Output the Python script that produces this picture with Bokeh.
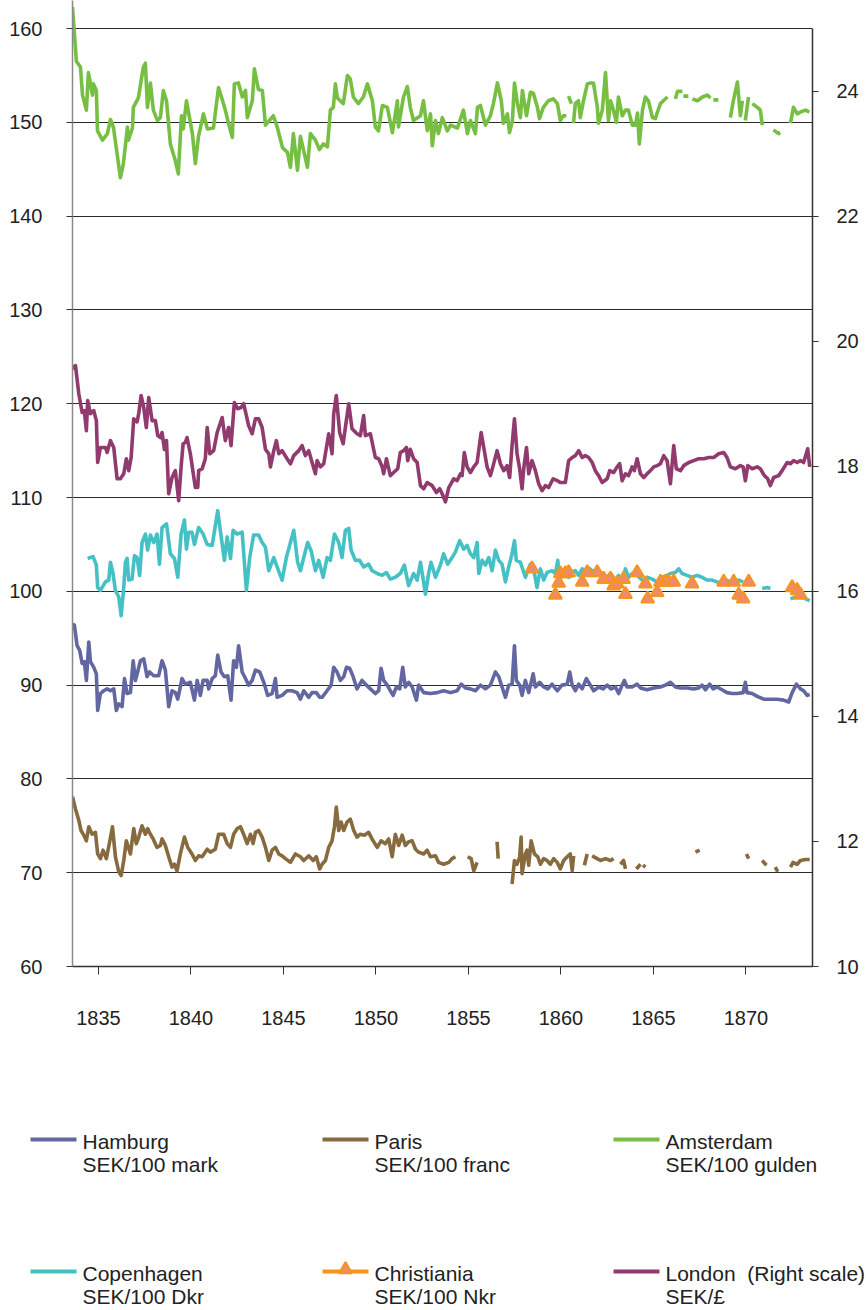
from bokeh.plotting import figure
from bokeh.models import Range1d, LinearAxis, FixedTicker
from bokeh.layouts import column
from bokeh.embed import file_html
from bokeh.resources import INLINE
from bokeh.core.properties import value

nan = float("nan")

# ---------------- data (year, value); None marks a gap ----------------
year_ticks = [1835, 1840, 1845, 1850, 1855, 1860, 1865, 1870]
left_ticks = [60, 70, 80, 90, 100, 110, 120, 130, 140, 150, 160]
right_ticks = [10, 12, 14, 16, 18, 20, 22, 24]

# Amsterdam, SEK/100 gulden (left scale)
amsterdam = [
    (1833.60, 162.3), (1833.81, 156.5), (1834.03, 155.9), (1834.14, 152.9), (1834.35, 151.3), (1834.46, 155.3),
    (1834.68, 152.9), (1834.73, 154.1), (1834.89, 153.4), (1834.95, 149.1), (1835.22, 148.1), (1835.49, 148.8),
    (1835.65, 150.3), (1835.81, 149.5), (1836.19, 144.1), (1836.35, 145.6), (1836.57, 149.5), (1836.62, 148.1),
    (1836.84, 149.4), (1836.89, 151.6), (1837.16, 152.6), (1837.43, 155.9), (1837.54, 156.3), (1837.65, 151.6),
    (1837.81, 154.2), (1837.97, 151.3), (1838.19, 150.2), (1838.35, 150.5), (1838.51, 153.4), (1838.68, 152.3),
    (1838.89, 147.7), (1839.16, 145.9), (1839.32, 144.5), (1839.49, 150.7), (1839.59, 149.3), (1839.76, 152.3),
    (1840.08, 148.8), (1840.24, 145.6), (1840.41, 148.5), (1840.68, 150.9), (1840.89, 149.3), (1841.22, 149.4),
    (1841.49, 153.7), (1841.70, 152.4), (1841.86, 151.3), (1842.03, 149.9), (1842.24, 148.4), (1842.35, 154.1),
    (1842.57, 154.2), (1842.78, 152.7), (1842.95, 153.4), (1843.05, 150.5), (1843.32, 152.3), (1843.43, 155.7),
    (1843.65, 153.5), (1843.86, 153.4), (1844.03, 149.7), (1844.46, 150.7), (1844.68, 149.4), (1844.95, 147.3),
    (1845.22, 146.8), (1845.38, 145.2), (1845.54, 148.8), (1845.76, 144.9), (1845.92, 148.5), (1846.30, 145.2),
    (1846.46, 148.8), (1846.73, 148.1), (1846.95, 147.1), (1847.16, 147.7), (1847.38, 147.4), (1847.54, 151.3),
    (1847.70, 151.6), (1847.81, 154.1), (1847.92, 152.6), (1848.24, 152.0), (1848.46, 155.0), (1848.62, 154.6),
    (1848.78, 152.7), (1849.05, 152.0), (1849.32, 152.7), (1849.54, 154.1), (1849.81, 152.3), (1849.97, 149.5),
    (1850.14, 149.1), (1850.35, 151.8), (1850.62, 151.6), (1850.89, 148.9), (1851.16, 152.3), (1851.22, 149.5),
    (1851.49, 152.7), (1851.70, 153.8), (1851.86, 151.6), (1852.03, 150.2), (1852.41, 150.7), (1852.57, 152.3),
    (1852.78, 149.1), (1852.95, 150.9), (1853.05, 147.5), (1853.22, 150.2), (1853.38, 148.8), (1853.59, 150.5),
    (1853.86, 149.1), (1854.03, 149.7), (1854.41, 149.4), (1854.73, 151.3), (1854.95, 148.8), (1855.11, 150.2),
    (1855.38, 148.8), (1855.49, 151.6), (1855.65, 151.8), (1855.92, 149.7), (1856.19, 150.7), (1856.35, 152.0),
    (1856.57, 154.2), (1856.78, 152.3), (1856.89, 149.9), (1857.11, 150.9), (1857.22, 148.9), (1857.38, 150.2),
    (1857.49, 154.2), (1857.65, 152.0), (1857.81, 150.5), (1857.92, 153.4), (1858.14, 150.7), (1858.35, 153.2),
    (1858.51, 153.1), (1858.73, 151.6), (1858.84, 150.4), (1859.05, 151.6), (1859.32, 152.3), (1859.59, 152.5),
    (1859.81, 152.0), (1859.97, 150.2), (1860.14, 150.7), (1860.30, 150.7), None,
    (1860.41, 152.8), (1860.57, 152.0), None,
    (1860.68, 149.9), (1860.78, 152.0), (1860.95, 152.3), (1861.05, 150.5), (1861.22, 152.3), (1861.43, 154.1),
    (1861.59, 154.2), (1861.76, 154.2), (1861.97, 151.6), (1862.03, 149.9), (1862.24, 151.3), (1862.41, 155.3),
    (1862.57, 150.2), (1862.68, 152.3), (1862.84, 151.3), (1863.00, 150.0), (1863.11, 152.7), (1863.32, 150.7),
    (1863.49, 151.3), (1863.65, 151.3), (1863.86, 149.7), (1864.03, 149.7), (1864.14, 151.0), (1864.24, 147.7),
    (1864.41, 151.3), (1864.57, 152.7), (1864.73, 152.3), (1864.95, 150.5), (1865.11, 150.4), (1865.22, 151.1),
    (1865.38, 152.0), (1865.54, 152.3), (1865.76, 152.7), None,
    (1866.19, 152.5), (1866.30, 153.3), (1866.57, 153.3), None,
    (1866.62, 152.8), (1866.89, 152.8), None,
    (1867.11, 152.5), (1867.38, 152.3), (1867.65, 152.7), (1867.92, 152.9), (1868.08, 152.6), None,
    (1868.24, 152.4), (1868.51, 152.4), None,
    (1869.16, 150.5), (1869.32, 152.3), (1869.54, 154.3), (1869.70, 150.7), (1869.81, 152.3), None,
    (1869.97, 150.2), (1870.14, 152.7), None,
    (1870.35, 152.0), (1870.62, 151.6), (1870.78, 151.3), (1870.89, 149.7), None,
    (1871.49, 149.2), (1871.76, 148.8), (1871.86, 148.9), None,
    (1872.41, 149.9), (1872.57, 151.6), (1872.78, 150.9), (1872.95, 151.1), (1873.22, 151.3), (1873.43, 151.1),
]

# London, SEK per pound sterling (right scale)
london = [
    (1833.60, 19.56), (1833.76, 19.61), (1833.94, 19.16), (1834.12, 18.86), (1834.24, 18.89), (1834.35, 18.57),
    (1834.42, 19.05), (1834.57, 18.84), (1834.75, 18.89), (1834.89, 18.73), (1834.96, 18.06), (1835.11, 18.30),
    (1835.38, 18.30), (1835.47, 18.22), (1835.65, 18.41), (1835.83, 18.30), (1836.01, 17.80), (1836.19, 17.80),
    (1836.37, 17.88), (1836.51, 18.12), (1836.64, 17.93), (1836.77, 18.14), (1836.91, 18.76), (1837.09, 18.71),
    (1837.18, 18.84), (1837.31, 19.13), (1837.45, 18.94), (1837.59, 18.62), (1837.72, 19.10), (1837.90, 18.73),
    (1838.08, 18.73), (1838.21, 18.49), (1838.35, 18.46), (1838.44, 18.54), (1838.57, 18.27), (1838.68, 18.41),
    (1838.80, 17.56), (1838.98, 17.82), (1839.16, 17.93), (1839.34, 17.45), (1839.47, 17.99), (1839.58, 18.36),
    (1839.70, 18.38), (1839.79, 18.46), (1839.97, 18.20), (1840.24, 17.66), (1840.37, 17.66), (1840.42, 17.93),
    (1840.61, 17.96), (1840.78, 18.12), (1840.88, 18.62), (1841.02, 18.20), (1841.23, 18.25), (1841.42, 18.54),
    (1841.69, 18.78), (1841.86, 18.41), (1842.04, 18.62), (1842.17, 18.33), (1842.35, 19.02), (1842.53, 18.92),
    (1842.71, 18.94), (1842.85, 19.00), (1843.00, 18.81), (1843.12, 18.65), (1843.31, 18.52), (1843.49, 18.76),
    (1843.66, 18.76), (1843.85, 18.62), (1844.03, 18.27), (1844.21, 18.20), (1844.30, 17.99), (1844.48, 18.25),
    (1844.62, 18.41), (1844.75, 18.20), (1844.93, 18.25), (1845.20, 18.12), (1845.38, 18.04), (1845.56, 18.17),
    (1845.83, 18.25), (1846.01, 18.33), (1846.19, 18.17), (1846.37, 18.25), (1846.55, 18.06), (1846.73, 17.88),
    (1846.82, 18.09), (1847.00, 17.99), (1847.18, 18.04), (1847.45, 18.52), (1847.63, 18.20), (1847.72, 18.84),
    (1847.86, 19.13), (1848.04, 18.54), (1848.23, 18.36), (1848.35, 18.62), (1848.53, 19.00), (1848.71, 18.60),
    (1848.98, 18.52), (1849.16, 18.49), (1849.34, 18.81), (1849.43, 18.49), (1849.70, 18.52), (1849.97, 18.14),
    (1850.15, 18.12), (1850.34, 17.99), (1850.42, 17.88), (1850.57, 18.12), (1850.78, 17.85), (1850.96, 17.90),
    (1851.18, 17.96), (1851.32, 18.22), (1851.50, 18.25), (1851.65, 18.30), (1851.72, 18.09), (1851.86, 18.27),
    (1852.04, 18.12), (1852.23, 18.06), (1852.41, 17.69), (1852.58, 17.64), (1852.77, 17.74), (1853.04, 17.69),
    (1853.27, 17.58), (1853.45, 17.64), (1853.58, 17.56), (1853.76, 17.43), (1853.94, 17.66), (1854.21, 17.80),
    (1854.39, 17.77), (1854.57, 17.88), (1854.66, 17.85), (1854.78, 18.22), (1854.93, 17.99), (1855.11, 17.90),
    (1855.29, 17.99), (1855.47, 18.06), (1855.69, 18.54), (1855.83, 18.30), (1856.01, 17.99), (1856.19, 17.85),
    (1856.34, 18.01), (1856.55, 18.25), (1856.73, 18.04), (1856.91, 17.93), (1857.09, 18.01), (1857.23, 17.82),
    (1857.36, 18.33), (1857.49, 18.76), (1857.63, 18.20), (1857.77, 17.96), (1857.90, 17.64), (1857.99, 17.96),
    (1858.14, 18.30), (1858.26, 17.88), (1858.44, 18.09), (1858.62, 17.93), (1858.80, 17.72), (1858.98, 17.61),
    (1859.16, 17.69), (1859.34, 17.66), (1859.58, 17.80), (1859.80, 17.77), (1859.97, 17.74), (1860.24, 17.74),
    (1860.42, 18.09), (1860.61, 18.14), (1860.78, 18.17), (1860.96, 18.25), (1861.15, 18.14), (1861.32, 18.17),
    (1861.50, 18.14), (1861.69, 18.06), (1861.86, 17.93), (1862.04, 17.85), (1862.23, 17.74), (1862.50, 17.80),
    (1862.64, 17.93), (1862.85, 17.90), (1863.04, 17.99), (1863.18, 18.04), (1863.31, 17.77), (1863.49, 17.88),
    (1863.66, 17.85), (1863.85, 17.99), (1863.97, 17.93), (1864.12, 18.12), (1864.30, 17.88), (1864.48, 17.82),
    (1864.66, 17.88), (1864.84, 17.93), (1865.02, 17.99), (1865.20, 18.01), (1865.38, 18.04), (1865.56, 18.17),
    (1865.74, 18.09), (1865.92, 17.72), (1866.10, 18.33), (1866.24, 17.96), (1866.46, 17.93), (1866.64, 18.01),
    (1866.91, 18.06), (1867.18, 18.09), (1867.45, 18.12), (1867.72, 18.12), (1867.99, 18.14), (1868.26, 18.14),
    (1868.53, 18.20), (1868.80, 18.22), (1868.98, 18.14), (1869.16, 17.99), (1869.43, 17.96), (1869.70, 18.01),
    (1869.85, 17.99), (1869.97, 17.77), (1870.10, 18.01), (1870.34, 17.96), (1870.61, 17.99), (1870.78, 17.96),
    (1871.00, 17.85), (1871.18, 17.80), (1871.32, 17.69), (1871.50, 17.82), (1871.77, 17.85), (1871.96, 17.93),
    (1872.23, 18.06), (1872.41, 18.04), (1872.58, 18.09), (1872.77, 18.06), (1872.95, 18.09), (1873.12, 18.06),
    (1873.34, 18.28), (1873.45, 17.99),
]

# Copenhagen, SEK/100 Dkr (left scale)
copenhagen = [
    (1834.42, 103.5), (1834.71, 103.7), (1834.89, 102.8), (1834.96, 100.4), (1835.11, 100.1), (1835.38, 101.0),
    (1835.56, 101.2), (1835.65, 103.1), (1835.79, 101.9), (1835.92, 100.1), (1836.10, 99.4), (1836.23, 97.4),
    (1836.37, 100.4), (1836.46, 103.1), (1836.55, 103.5), (1836.64, 101.2), (1836.82, 101.3), (1836.95, 103.8),
    (1837.09, 103.6), (1837.23, 101.7), (1837.36, 105.2), (1837.54, 106.1), (1837.66, 104.4), (1837.81, 106.0),
    (1837.99, 105.2), (1838.17, 106.1), (1838.30, 102.9), (1838.44, 106.8), (1838.68, 107.2), (1838.89, 104.0),
    (1839.11, 103.5), (1839.29, 101.5), (1839.47, 106.1), (1839.65, 107.6), (1839.76, 104.5), (1839.88, 106.3),
    (1840.06, 106.3), (1840.19, 105.0), (1840.42, 106.8), (1840.66, 106.1), (1840.88, 105.0), (1841.15, 104.9),
    (1841.45, 108.6), (1841.59, 106.5), (1841.81, 103.3), (1841.96, 105.8), (1842.14, 103.5), (1842.28, 106.5),
    (1842.50, 106.1), (1842.77, 106.3), (1843.00, 100.1), (1843.18, 103.6), (1843.39, 106.0), (1843.66, 106.0),
    (1843.85, 105.2), (1844.03, 104.7), (1844.21, 102.2), (1844.48, 103.6), (1844.66, 102.6), (1844.93, 101.2),
    (1845.16, 103.6), (1845.38, 105.2), (1845.56, 106.5), (1845.77, 103.1), (1845.92, 102.2), (1846.10, 103.6),
    (1846.31, 105.2), (1846.50, 104.3), (1846.73, 102.2), (1846.91, 103.3), (1847.15, 101.5), (1847.36, 103.6),
    (1847.54, 103.3), (1847.76, 106.1), (1847.99, 105.2), (1848.17, 103.6), (1848.35, 106.5), (1848.53, 106.7),
    (1848.66, 104.4), (1848.89, 103.3), (1849.12, 103.3), (1849.34, 102.6), (1849.61, 102.9), (1849.79, 102.2),
    (1850.07, 101.9), (1850.34, 101.7), (1850.57, 102.0), (1850.78, 101.3), (1851.05, 101.5), (1851.32, 101.9),
    (1851.54, 102.8), (1851.77, 100.6), (1852.04, 101.9), (1852.23, 101.2), (1852.41, 103.1), (1852.68, 99.7),
    (1852.85, 101.9), (1852.98, 103.1), (1853.22, 101.5), (1853.49, 102.8), (1853.66, 104.0), (1853.88, 102.9),
    (1854.12, 103.6), (1854.30, 104.2), (1854.53, 105.4), (1854.75, 104.5), (1854.93, 104.9), (1855.11, 104.0),
    (1855.29, 103.6), (1855.47, 105.2), (1855.56, 101.9), (1855.74, 103.3), (1855.92, 102.8), (1856.10, 103.6),
    (1856.28, 102.2), (1856.46, 104.4), (1856.64, 103.3), (1856.82, 102.9), (1857.00, 101.0), (1857.18, 102.6),
    (1857.36, 104.0), (1857.49, 105.4), (1857.59, 103.3), (1857.81, 103.1), (1858.08, 101.5), (1858.35, 102.9),
    (1858.57, 101.9), (1858.71, 100.4), (1858.89, 102.4), (1859.07, 101.2), (1859.25, 102.0), (1859.52, 102.2),
    (1859.70, 101.9), (1859.83, 103.3), (1859.94, 101.3), (1860.15, 101.9), (1860.42, 101.5), (1860.51, 102.0),
    (1860.78, 102.2), (1860.96, 101.7), (1861.15, 102.4), (1861.32, 101.9), (1861.50, 102.5), (1861.69, 102.2),
    (1861.96, 101.9), (1862.23, 101.9), (1862.50, 101.5), (1862.68, 101.9), (1862.95, 101.2), (1863.12, 101.7),
    (1863.31, 101.0), (1863.49, 102.4), (1863.66, 101.5), (1863.85, 101.9), (1864.12, 101.7), (1864.39, 101.2),
    (1864.66, 101.5), (1864.93, 101.3), (1865.20, 101.0), (1865.47, 101.5), (1865.74, 101.7), (1865.92, 101.9),
    (1866.19, 102.0), (1866.37, 102.4), (1866.55, 101.9), (1866.82, 101.7), (1867.09, 101.5), (1867.36, 101.7),
    (1867.63, 101.5), (1867.90, 101.2), (1868.17, 101.2), (1868.44, 101.0), (1868.80, 100.8), (1868.98, 101.2),
    (1869.16, 100.8), (1869.43, 101.0), (1869.61, 101.2), (1869.85, 101.0), None,
    (1870.88, 100.3), (1871.15, 100.4), (1871.32, 100.3), None,
    (1872.41, 99.2), (1872.68, 99.4), (1872.95, 99.6), (1873.22, 99.2), (1873.45, 99.0),
]

# Christiania, SEK/100 Nkr (left scale, single observations)
christiania = [
    (1858.44, 102.4), (1859.70, 99.6), (1859.88, 100.9), (1859.97, 101.9), (1860.24, 101.9), (1860.42, 102.0),
    (1861.15, 101.0), (1861.42, 102.0), (1861.96, 102.0), (1862.31, 101.3), (1862.68, 101.3), (1862.85, 100.6),
    (1863.04, 100.8), (1863.39, 101.3), (1863.49, 99.7), (1864.12, 102.0), (1864.57, 100.8), (1864.69, 99.2),
    (1865.20, 99.9), (1865.38, 101.0), (1865.65, 101.0), (1865.83, 101.0), (1866.10, 101.0), (1867.09, 100.8),
    (1868.80, 101.0), (1869.34, 101.0), (1869.61, 99.6), (1869.85, 99.2), (1870.15, 101.0), (1872.50, 100.4),
    (1872.77, 100.1), (1872.95, 99.6),
]

# Hamburg, SEK/100 mark (left scale)
hamburg = [
    (1833.60, 96.5), (1833.70, 96.4), (1833.85, 94.2), (1833.99, 93.7), (1834.12, 92.3), (1834.24, 92.5),
    (1834.35, 90.5), (1834.48, 94.6), (1834.57, 92.5), (1834.75, 91.9), (1834.89, 91.2), (1834.96, 87.3),
    (1835.11, 89.1), (1835.29, 89.4), (1835.47, 89.6), (1835.65, 89.4), (1835.83, 89.6), (1835.97, 87.3),
    (1836.10, 88.0), (1836.28, 87.7), (1836.41, 90.7), (1836.55, 89.1), (1836.73, 89.2), (1836.88, 92.6),
    (1837.00, 90.5), (1837.12, 91.4), (1837.27, 92.6), (1837.45, 92.8), (1837.63, 90.9), (1837.77, 91.4),
    (1837.99, 91.0), (1838.26, 91.0), (1838.44, 92.6), (1838.62, 91.6), (1838.80, 87.7), (1838.98, 89.4),
    (1839.16, 89.2), (1839.29, 88.5), (1839.52, 90.7), (1839.70, 90.1), (1839.97, 90.3), (1840.19, 88.4),
    (1840.34, 90.5), (1840.51, 88.9), (1840.66, 90.5), (1840.88, 90.5), (1840.96, 89.6), (1841.15, 90.7),
    (1841.32, 91.0), (1841.45, 93.2), (1841.63, 91.4), (1841.81, 90.9), (1841.99, 91.0), (1842.17, 88.4),
    (1842.31, 92.6), (1842.46, 91.9), (1842.58, 94.2), (1842.77, 91.4), (1842.95, 90.7), (1843.12, 90.0),
    (1843.31, 90.5), (1843.49, 91.6), (1843.72, 91.4), (1843.94, 90.3), (1844.15, 88.9), (1844.39, 89.1),
    (1844.57, 90.7), (1844.66, 88.7), (1844.93, 88.9), (1845.20, 89.4), (1845.47, 89.4), (1845.74, 89.2),
    (1845.92, 88.5), (1846.10, 89.4), (1846.37, 88.7), (1846.55, 89.2), (1846.78, 89.2), (1846.96, 88.7),
    (1847.09, 88.7), (1847.36, 89.4), (1847.58, 90.0), (1847.72, 91.9), (1847.90, 91.4), (1848.08, 90.5),
    (1848.26, 90.9), (1848.41, 91.9), (1848.58, 91.8), (1848.77, 90.9), (1848.98, 89.6), (1849.25, 90.5),
    (1849.49, 90.0), (1849.70, 89.6), (1849.97, 89.1), (1850.15, 89.4), (1850.28, 91.8), (1850.42, 90.5),
    (1850.61, 90.0), (1850.78, 89.4), (1850.93, 88.9), (1851.11, 89.8), (1851.29, 89.6), (1851.45, 91.9),
    (1851.59, 89.8), (1851.77, 90.3), (1851.96, 89.8), (1852.19, 88.4), (1852.31, 90.0), (1852.58, 89.2),
    (1852.95, 89.1), (1853.31, 89.2), (1853.66, 89.4), (1854.03, 89.2), (1854.39, 89.4), (1854.61, 90.1),
    (1854.84, 89.7), (1855.11, 89.6), (1855.38, 89.4), (1855.65, 90.0), (1855.92, 89.6), (1856.19, 90.0),
    (1856.46, 91.4), (1856.64, 90.9), (1856.82, 89.8), (1857.00, 88.7), (1857.18, 90.0), (1857.36, 90.1),
    (1857.49, 94.2), (1857.59, 90.5), (1857.77, 90.0), (1857.90, 88.9), (1858.08, 90.5), (1858.26, 89.2),
    (1858.50, 91.2), (1858.62, 89.8), (1858.85, 90.3), (1859.07, 89.8), (1859.29, 89.6), (1859.52, 90.1),
    (1859.80, 89.4), (1860.06, 90.0), (1860.34, 90.1), (1860.48, 91.4), (1860.61, 90.0), (1860.78, 89.4),
    (1860.96, 90.1), (1861.15, 89.6), (1861.38, 90.7), (1861.59, 90.0), (1861.77, 89.4), (1862.04, 89.8),
    (1862.28, 89.6), (1862.50, 90.0), (1862.71, 89.6), (1862.95, 89.8), (1863.12, 89.1), (1863.31, 90.0),
    (1863.43, 90.5), (1863.58, 89.8), (1863.85, 89.8), (1864.12, 90.1), (1864.30, 89.7), (1864.66, 89.5),
    (1865.02, 89.7), (1865.38, 89.8), (1865.65, 90.0), (1865.92, 90.3), (1866.19, 89.8), (1866.46, 89.7),
    (1866.82, 89.7), (1867.18, 89.6), (1867.45, 89.7), (1867.63, 90.0), (1867.81, 89.5), (1868.04, 90.1),
    (1868.23, 89.6), (1868.44, 89.8), (1868.71, 89.5), (1868.98, 89.2), (1869.25, 89.1), (1869.52, 89.1),
    (1869.85, 89.2), (1869.97, 90.3), (1870.06, 89.2), (1870.34, 89.1), (1870.61, 88.8), (1870.96, 88.5),
    (1871.32, 88.5), (1871.69, 88.5), (1872.04, 88.4), (1872.31, 88.2), (1872.50, 89.2), (1872.73, 90.1),
    (1872.95, 89.6), (1873.12, 89.4), (1873.31, 88.9), (1873.45, 89.0),
]

# Paris, SEK/100 franc (left scale)
paris = [
    (1833.60, 78.1), (1833.76, 76.8), (1833.94, 75.6), (1834.06, 74.5), (1834.21, 74.0), (1834.35, 73.4),
    (1834.48, 74.9), (1834.66, 74.1), (1834.84, 74.3), (1834.96, 72.0), (1835.11, 71.5), (1835.25, 72.4),
    (1835.43, 71.5), (1835.61, 73.3), (1835.76, 74.9), (1835.92, 71.7), (1836.10, 70.1), (1836.23, 69.7),
    (1836.37, 71.3), (1836.51, 73.4), (1836.73, 72.0), (1836.91, 74.7), (1837.05, 73.1), (1837.18, 73.8),
    (1837.36, 75.0), (1837.54, 74.1), (1837.66, 74.7), (1837.81, 74.1), (1837.96, 73.6), (1838.17, 72.7),
    (1838.35, 72.9), (1838.44, 73.6), (1838.62, 72.9), (1838.80, 71.7), (1838.98, 70.6), (1839.11, 70.9),
    (1839.25, 70.2), (1839.43, 72.0), (1839.65, 73.8), (1839.83, 72.7), (1840.06, 72.0), (1840.24, 71.3),
    (1840.42, 71.8), (1840.61, 71.7), (1840.88, 72.5), (1841.05, 72.2), (1841.32, 72.5), (1841.50, 74.1),
    (1841.77, 74.1), (1841.96, 73.1), (1842.14, 72.7), (1842.31, 74.1), (1842.50, 74.7), (1842.68, 74.9),
    (1842.85, 74.1), (1843.04, 73.1), (1843.22, 74.1), (1843.36, 73.1), (1843.49, 74.3), (1843.66, 74.5),
    (1843.85, 73.8), (1844.03, 72.7), (1844.21, 71.3), (1844.39, 72.4), (1844.57, 72.7), (1844.75, 72.0),
    (1844.93, 71.8), (1845.11, 71.5), (1845.38, 71.1), (1845.65, 72.0), (1845.92, 71.7), (1846.10, 71.3),
    (1846.37, 71.8), (1846.61, 71.3), (1846.78, 71.7), (1846.96, 70.4), (1847.09, 70.9), (1847.27, 71.3),
    (1847.45, 72.7), (1847.63, 73.4), (1847.76, 74.9), (1847.86, 77.0), (1847.99, 74.5), (1848.12, 75.4),
    (1848.26, 74.5), (1848.44, 75.4), (1848.62, 75.7), (1848.80, 74.5), (1848.98, 73.8), (1849.16, 74.1),
    (1849.38, 74.0), (1849.61, 74.3), (1849.79, 73.6), (1850.07, 72.7), (1850.28, 73.4), (1850.51, 73.1),
    (1850.69, 73.6), (1850.88, 71.7), (1851.05, 74.1), (1851.23, 72.9), (1851.42, 74.0), (1851.59, 72.9),
    (1851.77, 73.3), (1851.96, 73.4), (1852.14, 72.5), (1852.31, 72.2), (1852.58, 72.0), (1852.77, 72.4),
    (1852.95, 71.7), (1853.22, 71.8), (1853.39, 71.1), (1853.66, 70.9), (1853.94, 71.1), (1854.12, 71.5),
    (1854.30, 71.7), None,
    (1854.96, 71.7), (1855.15, 71.5), (1855.29, 70.2), (1855.47, 71.1), None,
    (1856.55, 73.3), (1856.61, 71.5), None,
    (1857.36, 68.8), (1857.49, 71.3), (1857.63, 70.9), (1857.77, 71.7), (1857.85, 73.8), (1857.90, 69.9),
    (1858.08, 72.0), (1858.17, 72.4), (1858.26, 70.8), (1858.39, 73.4), (1858.57, 72.0), (1858.75, 71.7),
    (1858.89, 70.9), (1859.07, 71.5), (1859.25, 71.3), (1859.43, 70.9), (1859.61, 71.5), (1859.80, 71.1),
    (1859.97, 70.4), (1860.15, 71.3), (1860.34, 71.7), (1860.51, 72.0), (1860.61, 70.2), (1860.69, 71.8), None,
    (1861.27, 70.8), (1861.42, 72.0), None,
    (1861.69, 71.8), (1861.96, 71.5), (1862.14, 71.3), (1862.41, 71.5), (1862.68, 71.3), (1862.85, 71.5), None,
    (1863.22, 70.9), (1863.39, 71.3), (1863.49, 70.4), None,
    (1864.08, 70.4), (1864.30, 70.9), None,
    (1864.44, 70.8), (1864.57, 70.6), None,
    (1867.27, 72.2), (1867.50, 72.4), None,
    (1870.03, 72.0), (1870.15, 71.5), None,
    (1870.88, 71.3), (1871.11, 70.8), None,
    (1871.59, 70.6), (1871.72, 70.1), None,
    (1872.41, 70.6), (1872.55, 71.1), (1872.77, 70.9), (1872.95, 71.3), (1873.22, 71.4), (1873.45, 71.4),
]

legend_rows = [
    [("Hamburg", "SEK/100 mark", "hamburg"), ("Paris", "SEK/100 franc", "paris"),
     ("Amsterdam", "SEK/100 gulden", "amsterdam")],
    [("Copenhagen", "SEK/100 Dkr", "copenhagen"), ("Christiania", "SEK/100 Nkr", "christiania"),
     ("London\u00a0 (Right scale)", "SEK/\u00a3", "london")],
]

COLORS = {
    "hamburg": "#6367a1",
    "paris": "#876a3e",
    "amsterdam": "#76bf43",
    "copenhagen": "#45c1c5",
    "christiania": "#f7941e",
    "london": "#903a6d",
}
TRI_FILL = "#ef8a6e"
FONT = "Liberation Sans"
TEXT = "#222222"


def split(pairs):
    xs, ys = [], []
    for item in pairs:
        if item is None:
            xs.append(nan)
            ys.append(nan)
        else:
            xs.append(item[0])
            ys.append(item[1])
    return xs, ys


def no_align(fig):
    if hasattr(fig, "frame_align"):
        fig.frame_align = False


# ---------------- main chart ----------------
Y_TOP = 162.99
p = figure(frame_width=740, frame_height=966, output_backend="svg", toolbar_location=None,
           x_range=Range1d(1833.6, 1873.6), y_range=Range1d(60, Y_TOP),
           min_border_left=72, min_border_right=54, min_border_top=0, min_border_bottom=80)
no_align(p)
p.outline_line_color = None
p.background_fill_color = "white"
p.border_fill_color = "white"

p.extra_y_ranges = {"right": Range1d(10, 10 + (Y_TOP - 60) * 0.15)}

p.xgrid.visible = False
p.ygrid.ticker = FixedTicker(ticks=left_ticks[1:])
p.ygrid.grid_line_color = "#2a2a2a"
p.ygrid.grid_line_width = 1

xa = p.xaxis[0]
xa.ticker = FixedTicker(ticks=year_ticks)
xa.axis_line_color = "#333333"
xa.axis_line_width = 1.5
xa.major_tick_line_color = "#333333"
xa.major_tick_out = 8
xa.major_tick_in = 0
xa.minor_tick_line_color = None
xa.major_label_standoff = 36
xa.major_label_text_font = FONT
xa.major_label_text_font_size = "20px"
xa.major_label_text_color = TEXT

ya = p.yaxis[0]
ya.ticker = FixedTicker(ticks=left_ticks)
ya.axis_line_color = "#8a8a8a"
ya.axis_line_width = 1.5
ya.major_tick_line_color = "#333333"
ya.major_tick_out = 6
ya.major_tick_in = 0
ya.minor_tick_line_color = None
ya.major_label_standoff = 24
ya.major_label_text_font = FONT
ya.major_label_text_font_size = "20px"
ya.major_label_text_color = TEXT

ra = LinearAxis(y_range_name="right", ticker=FixedTicker(ticks=right_ticks), bounds=(10, 25))
ra.axis_line_color = "#333333"
ra.axis_line_width = 1.5
ra.major_tick_line_color = "#333333"
ra.major_tick_out = 6
ra.major_tick_in = 0
ra.minor_tick_line_color = None
ra.major_label_standoff = 18
ra.major_label_text_font = FONT
ra.major_label_text_font_size = "20px"
ra.major_label_text_color = TEXT
p.add_layout(ra, "right")

LW = 3.6
for name, data, rng in [("paris", paris, None), ("hamburg", hamburg, None),
                        ("copenhagen", copenhagen, None), ("london", london, "right"),
                        ("amsterdam", amsterdam, None)]:
    xs, ys = split(data)
    kw = {"y_range_name": rng} if rng else {}
    p.line(xs, ys, line_color=COLORS[name], line_width=LW, line_join="round", **kw)

cx, cy = split(christiania)
p.scatter(cx, cy, marker="triangle", size=13, fill_color=TRI_FILL,
          line_color=COLORS["christiania"], line_width=2)

# ---------------- legend panel (coordinates = pixels of the panel) ----------------
LEG_W, LEG_H = 866, 264
leg = figure(frame_width=LEG_W, frame_height=LEG_H, output_backend="svg", toolbar_location=None,
             x_range=Range1d(0, LEG_W), y_range=Range1d(0, LEG_H), min_border=0)
no_align(leg)
leg.axis.visible = False
leg.grid.visible = False
leg.outline_line_color = None

col_x = [30, 322, 613]
row_y = [171, 39]
for r, row in enumerate(legend_rows):
    for c, (t1, t2, key) in enumerate(row):
        x0 = col_x[c]
        y0 = row_y[r]
        leg.line([x0, x0 + 46], [y0, y0], line_color=COLORS[key], line_width=4)
        if key == "christiania":
            leg.scatter([x0 + 23], [y0 + 2], marker="triangle", size=13, fill_color=TRI_FILL,
                        line_color=COLORS[key], line_width=2)
        leg.text([x0 + 52], [y0 - 2], text=[t1], text_font=value(FONT), text_font_size="21px",
                 text_baseline="middle", text_align="left", text_color=TEXT)
        leg.text([x0 + 52], [y0 - 25], text=[t2], text_font=value(FONT), text_font_size="21px",
                 text_baseline="middle", text_align="left", text_color=TEXT)

layout = column(p, leg, spacing=0)
open("out.html", "w").write(file_html(layout, INLINE))
